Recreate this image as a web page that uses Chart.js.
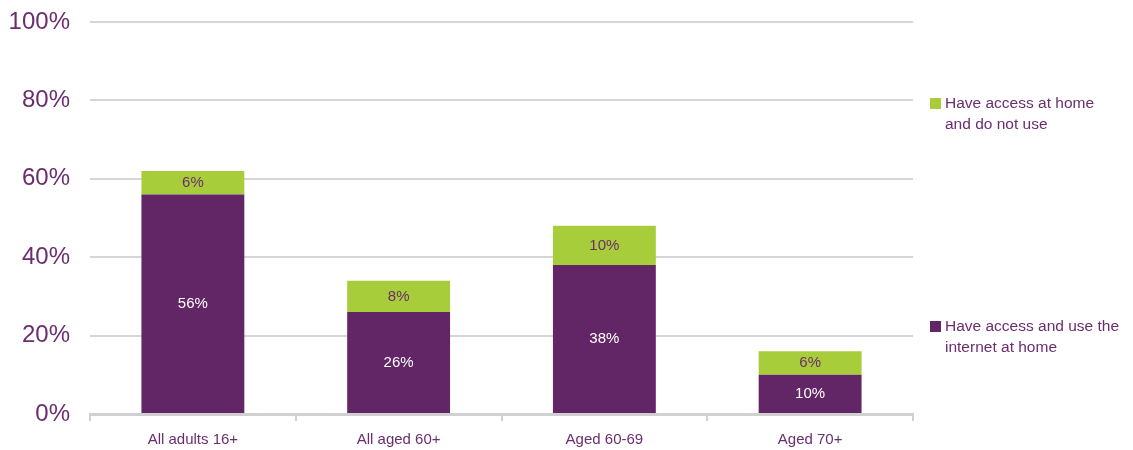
<!DOCTYPE html>
<html>
<head>
<meta charset="utf-8">
<script src="https://cdn.jsdelivr.net/npm/chart.js@4"></script>
<style>
  html, body { margin:0; padding:0; background:#fff; }
  #wrap { width:1133px; height:450px; position:relative; }
</style>
</head>
<body>
<div id="wrap"><canvas id="chart" width="1133" height="450"></canvas></div>
<script>
const categories = ['All adults 16+', 'All aged 60+', 'Aged 60-69', 'Aged 70+'];
const useAtHome = [56, 26, 38, 10];
const accessNoUse = [6, 8, 10, 6];
const yTicks = [0, 20, 40, 60, 80, 100];
const seriesNames = [
  ['Have access and use the', 'internet at home'],
  ['Have access at home', 'and do not use']
];

const PURPLE = '#622565';
const GREEN = '#a8cd3a';
const TEXT = '#6b2d6f';
const FONT = '"Liberation Sans", Arial, sans-serif';

// labels in the middle of each segment
const barLabels = {
  id: 'barLabels',
  afterDatasetsDraw(chart) {
    const ctx = chart.ctx;
    ctx.save();
    ctx.font = '15px ' + FONT;
    ctx.textAlign = 'center';
    ctx.textBaseline = 'middle';
    chart.data.datasets.forEach((ds, i) => {
      chart.getDatasetMeta(i).data.forEach((bar, j) => {
        const p = bar.getProps(['x', 'y', 'base'], true);
        ctx.fillStyle = i === 0 ? '#ffffff' : TEXT;
        ctx.fillText(ds.data[j] + '%', p.x, (p.y + p.base) / 2);
      });
    });
    ctx.restore();
  }
};

// legend to the right, green entry on top
const sideLegend = {
  id: 'sideLegend',
  afterDraw(chart) {
    const ctx = chart.ctx;
    const x = chart.chartArea.right + 17;
    const spots = [[1, 98], [0, 321]];
    ctx.save();
    ctx.font = '15.5px ' + FONT;
    ctx.textBaseline = 'middle';
    spots.forEach(([i, top]) => {
      const ds = chart.data.datasets[i];
      ctx.fillStyle = ds.backgroundColor;
      ctx.fillRect(x, top, 11, 11);
      ctx.fillStyle = TEXT;
      ds.label.forEach((line, k) => {
        ctx.fillText(line, x + 15, top + 6 + k * 21);
      });
    });
    ctx.restore();
  }
};

new Chart(document.getElementById('chart'), {
  type: 'bar',
  data: {
    labels: categories,
    datasets: [
      { label: seriesNames[0], data: useAtHome, backgroundColor: PURPLE },
      { label: seriesNames[1], data: accessNoUse, backgroundColor: GREEN }
    ]
  },
  options: {
    responsive: false,
    animation: false,
    layout: { padding: { top: 22, right: 220, bottom: 0, left: 0 } },
    datasets: { bar: { categoryPercentage: 1, barPercentage: 0.5 } },
    plugins: { legend: { display: false }, tooltip: { enabled: false } },
    scales: {
      x: {
        stacked: true,
        offset: true,
        grid: { display: true, offset: true, drawOnChartArea: false, color: '#d0d0d0', lineWidth: 2, tickLength: 7 },
        border: { display: true, color: '#d0d0d0', width: 3 },
        ticks: { color: TEXT, font: { family: FONT, size: 15 }, padding: 10 },
        afterFit(s) { s.height = 36; }
      },
      y: {
        stacked: true,
        min: 0,
        max: 100,
        afterBuildTicks(s) { s.ticks = yTicks.map(v => ({ value: v })); },
        grid: { color: '#d6d6d6', lineWidth: 2, drawTicks: false },
        border: { display: false },
        ticks: { color: TEXT, font: { family: FONT, size: 24 }, padding: 20, callback: v => v + '%' },
        afterFit(s) { s.width = 90; s.paddingTop = 0; s.paddingBottom = 0; }
      }
    }
  },
  plugins: [barLabels, sideLegend]
});
</script>
</body>
</html>
